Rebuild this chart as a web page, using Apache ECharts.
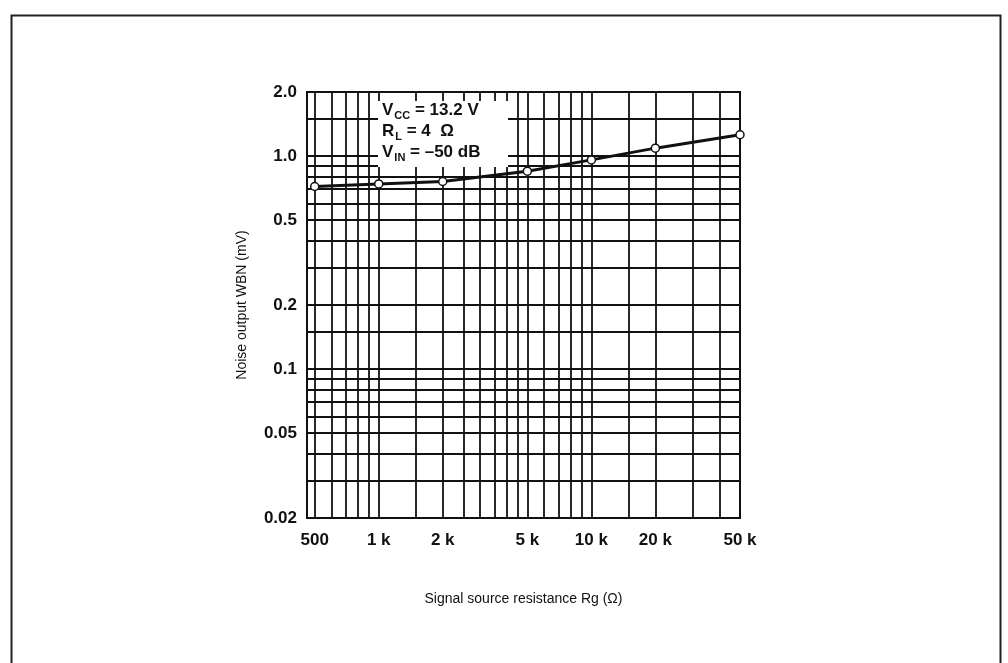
<!DOCTYPE html>
<html>
<head>
<meta charset="utf-8">
<script src="https://cdn.jsdelivr.net/npm/echarts@6/dist/echarts.min.js"></script>
<style>
  html, body { margin: 0; padding: 0; background: #fff; }
  #chart { width: 1008px; height: 663px; }
</style>
</head>
<body>
<div id="chart"></div>
<script>
// values
const rgValues = [500, 1000, 2000, 5000, 10000, 20000, 50000];
const noiseValues = [0.72, 0.74, 0.76, 0.85, 0.96, 1.09, 1.26];

// log paper lines and labelled ticks
const xGridValues = [500, 600, 700, 800, 900, 1000, 1500, 2000, 2500, 3000, 3500, 4000, 4500,
  5000, 6000, 7000, 8000, 9000, 10000, 15000, 20000, 30000, 40000, 50000];
const yGridValues = [0.02, 0.03, 0.04, 0.05, 0.06, 0.07, 0.08, 0.09, 0.1, 0.15, 0.2, 0.3,
  0.4, 0.5, 0.6, 0.7, 0.8, 0.9, 1, 1.5, 2];
const xLabelValues = [500, 1000, 2000, 5000, 10000, 20000, 50000];
const yLabelValues = [0.02, 0.05, 0.1, 0.2, 0.5, 1, 2];

const font = '"Liberation Sans", Arial, sans-serif';
const ink = '#111';

const chart = echarts.init(document.getElementById('chart'));

chart.setOption({
  animation: false,
  backgroundColor: '#fff',
  grid: {
    left: 307, top: 92, width: 433, height: 426,
    show: true, borderColor: ink, borderWidth: 2, backgroundColor: '#fff'
  },
  xAxis: {
    type: 'log',
    logBase: 10,
    min: 460,
    max: 50000,
    name: 'Signal source resistance Rg (\u03A9)',
    nameLocation: 'middle',
    nameGap: 74,
    nameTextStyle: { fontFamily: font, fontSize: 14, color: ink },
    axisLine: { show: true, lineStyle: { color: ink, width: 2 } },
    axisTick: { show: false, customValues: xGridValues },
    splitLine: { show: true, lineStyle: { color: ink, width: 1.8 } },
    axisLabel: {
      customValues: xLabelValues,
      margin: 14,
      fontFamily: font, fontSize: 17, fontWeight: 'bold', color: ink,
      formatter: v => v >= 1000 ? (v / 1000) + ' k' : String(v)
    }
  },
  yAxis: {
    type: 'log',
    logBase: 10,
    min: 0.02,
    max: 2,
    name: 'Noise output WBN (mV)',
    nameLocation: 'middle',
    nameGap: 58,
    nameTextStyle: { fontFamily: font, fontSize: 14, color: ink },
    axisLine: { show: true, lineStyle: { color: ink, width: 2 } },
    axisTick: { show: false, customValues: yGridValues },
    splitLine: { show: true, lineStyle: { color: ink, width: 1.8 } },
    axisLabel: {
      customValues: yLabelValues,
      margin: 10,
      fontFamily: font, fontSize: 17, fontWeight: 'bold', color: ink,
      formatter: v => (v >= 1 ? v.toFixed(1) : String(v))
    }
  },
  graphic: [
    {
      type: 'rect', left: 9, top: 13, z: 50,
      shape: { width: 989, height: 700 },
      style: { fill: 'none', stroke: '#222', lineWidth: 2 }
    },
    {
      type: 'rect', left: 378, top: 101, z: 60,
      shape: { width: 130, height: 66 },
      style: { fill: '#fff' }
    },
    {
      type: 'text', left: 382, top: 102, z: 61,
      style: {
        text: '{m|V}{s|CC}{m| = 13.2 V}\n{m|R}{s|L}{m| = 4  \u03A9}\n{m|V}{s|IN}{m| = \u201350 dB}',
        rich: {
          m: { fontFamily: font, fontSize: 17, fontWeight: 'bold', fill: ink, lineHeight: 21 },
          s: { fontFamily: font, fontSize: 11, fontWeight: 'bold', fill: ink, lineHeight: 21, verticalAlign: 'bottom', padding: [4, 0, 0, 1] }
        }
      }
    }
  ],
  series: [
    {
      type: 'line',
      data: rgValues.map((r, i) => [r, noiseValues[i]]),
      symbol: 'circle',
      symbolSize: 8,
      z: 10,
      lineStyle: { color: ink, width: 3 },
      itemStyle: { color: '#fff', borderColor: ink, borderWidth: 1.5 }
    }
  ]
});
</script>
</body>
</html>
